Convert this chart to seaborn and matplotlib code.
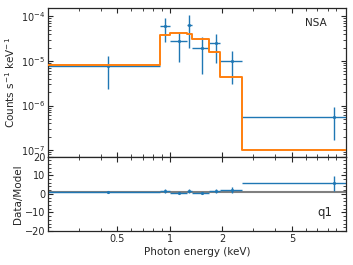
import numpy as np
import pandas as pd
import matplotlib
matplotlib.use("Agg")
import matplotlib.pyplot as plt
import matplotlib.ticker as mticker
import seaborn as sns

# data
e_center = [0.444, 0.94, 1.127, 1.29, 1.52, 1.83, 2.27, 8.7]
e_lo = [0.2, 0.88, 1.0, 1.245, 1.34, 1.68, 1.93, 2.6]
e_hi = [0.88, 1.0, 1.245, 1.34, 1.68, 1.93, 2.6, 12.0]
counts = [7.8e-6, 6.0e-5, 2.74e-5, 6.5e-5, 2.0e-5, 2.5e-5, 9.8e-6, 5.5e-7]
counts_err = [5.4e-6, 3.4e-5, 1.8e-5, 4.5e-5, 1.5e-5, 1.6e-5, 6.7e-6, 3.8e-7]

model_edges = [0.2, 0.88, 1.0, 1.245, 1.34, 1.68, 1.93, 2.6, 12.0]
model_vals = [8.2e-6, 3.74e-5, 4.2e-5, 4.0e-5, 3.1e-5, 1.58e-5, 4.35e-6, 9.8e-8]

xticks = [0.5, 1, 2, 5]

sns.set_theme(style="ticks")
plt.rcParams['font.family'] = ['DejaVu Sans']
plt.rcParams['xtick.direction'] = 'in'
plt.rcParams['ytick.direction'] = 'in'

e_center = np.array(e_center)
counts = np.array(counts)
counts_err = np.array(counts_err)
xerr = [e_center - np.array(e_lo), np.array(e_hi) - e_center]

model_df = pd.DataFrame({'E': model_edges, 'model': model_vals + [model_vals[-1]]})
model_at_pts = np.array(model_vals)
ratio = counts / model_at_pts
ratio_err = counts_err / model_at_pts

fig, (ax1, ax2) = plt.subplots(2, 1, figsize=(3.53, 2.65), dpi=100, sharex=True,
                               gridspec_kw={'height_ratios': [2, 1], 'hspace': 0})
fig.subplots_adjust(left=0.136, right=0.98, top=0.97, bottom=0.128)

blue = '#1f77b4'
orange = '#ff7f0e'

ax1.errorbar(e_center, counts, xerr=xerr, yerr=counts_err, fmt='.', ms=2.5,
             color=blue, lw=1, zorder=2)
sns.lineplot(data=model_df, x='E', y='model', drawstyle='steps-post', color=orange,
             lw=1.4, ax=ax1, zorder=3)
ax1.set_xscale('log')
ax1.set_yscale('log')
ax1.set_xlim(0.2, 10.2)
ax1.set_ylim(7.1e-8, 1.55e-4)
ax1.set_ylabel('Counts s$^{-1}$ keV$^{-1}$', fontsize=7.5, labelpad=3)
ax1.set_xlabel('')
ax1.text(0.9, 0.9, 'NSA', transform=ax1.transAxes, ha='center', va='center', fontsize=7.5)

ax2.axhline(1, color='gray', lw=1.5, zorder=1)
ax2.errorbar(e_center, ratio, xerr=xerr, yerr=ratio_err, fmt='.', ms=2.5,
             color=blue, lw=1, zorder=2)
ax2.set_ylim(-20, 20)
ax2.set_yticks([-20, -10, 0, 10, 20])
ax2.yaxis.set_minor_locator(mticker.AutoMinorLocator())
ax2.set_ylabel('Data/Model', fontsize=7.5, labelpad=1)
ax2.set_xlabel('Photon energy (keV)', fontsize=7.5, labelpad=2)
ax2.text(0.93, 0.25, 'q1', transform=ax2.transAxes, ha='center', va='center', fontsize=8.5)
ax2.set_xticks(xticks)
ax2.xaxis.set_major_formatter(mticker.FuncFormatter(lambda v, p: '%g' % v))
ax2.xaxis.set_minor_formatter(mticker.NullFormatter())

for ax in (ax1, ax2):
    ax.tick_params(which='both', top=True, right=True, labelsize=7, pad=2)
    ax.tick_params(which='major', length=3.5, width=0.8)
    ax.tick_params(which='minor', length=2, width=0.6)
    for s in ax.spines.values():
        s.set_linewidth(0.9)
ax1.tick_params(labelbottom=False)

fig.savefig('out.png', dpi=100)
